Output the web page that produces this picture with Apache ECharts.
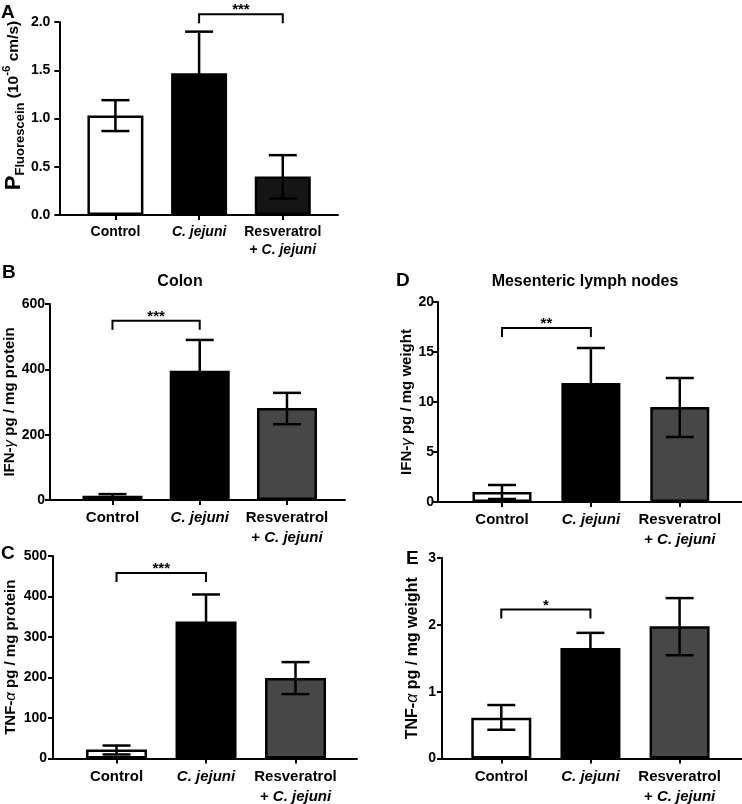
<!DOCTYPE html>
<html><head><meta charset="utf-8">
<script src="https://cdn.jsdelivr.net/npm/echarts@6/dist/echarts.min.js"></script>
<style>html,body{margin:0;padding:0;background:#fff}#c{width:742px;height:804px}</style>
</head><body><div id="c"></div>
<script>
// ---------- DATA ----------
const categories = ['Control', 'C. jejuni', 'Resveratrol + C. jejuni'];

// Panel A: P Fluorescein (10^-6 cm/s)
const aMean = [1.03, 1.47, 0.40];
const aLow  = [0.87, 1.04, 0.17];
const aHigh = [1.19, 1.90, 0.62];
// Panel B: Colon IFN-gamma pg/mg protein
const bMean = [13, 396, 282];
const bLow  = [8, 302, 232];
const bHigh = [18, 490, 328];
// Panel C: Colon TNF-alpha pg/mg protein
const cMean = [22, 338, 199];
const cLow  = [10, 271, 159];
const cHigh = [32, 405, 238];
// Panel D: MLN IFN-gamma pg/mg weight
const dMean = [1.0, 11.9, 9.5];
const dLow  = [0.3, 8.4, 6.5];
const dHigh = [1.7, 15.4, 12.4];
// Panel E: MLN TNF-alpha pg/mg weight
const eMean = [0.61, 1.655, 1.98];
const eLow  = [0.43, 1.43, 1.545];
const eHigh = [0.80, 1.88, 2.40];

// y-axis tick settings (max, step) per panel A..E
const yMaxes = [2.0, 600, 500, 20, 3];
const ySteps = [0.5, 200, 100, 5, 1];

// significance brackets per panel A..E
const bracketFrom  = [1, 0, 0, 0, 0];
const bracketTo    = [2, 1, 1, 1, 1];
const bracketLevel = [2.08, 549, 458, 17.4, 2.23];
const bracketStars = ['***', '***', '***', '**', '*'];

const panelLetters = ['A', 'B', 'C', 'D', 'E'];
const yNames = [
  '{big|P}{sub|Fluorescein}{t| (10}{sup|-6}{t| cm/s)}',
  '{t|IFN-}{gr|γ}{t| pg / mg protein}',
  '{t|TNF-}{gr|α}{t| pg / mg protein}',
  '{t|IFN-}{gr|γ}{t| pg / mg weight}',
  '{t|TNF-}{gr|α}{t| pg / mg weight}'
];

// ---------- LAYOUT / STYLE ----------
const FONT = '"Liberation Sans", Arial, sans-serif';
const panels = [
  {mean: aMean, low: aLow, high: aHigh, grid: {left: 54, top: 22, width: 284, height: 193}, xmin: -0.67, xmax: 2.66, barW: 56, colors: ['#ffffff', '#000000', '#151515'], nameGap: 32, namePad: [0, 0, 0, 26], nameSize: 15.5, labMargin: 9, catSize: 14, fmt: v => v.toFixed(1)},
  {mean: bMean, low: bLow, high: bHigh, grid: {left: 50, top: 304, width: 295, height: 196}, xmin: -0.716, xmax: 2.665, barW: 60, colors: ['#ffffff', '#000000', '#474747'], nameGap: 31, namePad: [0, 0, 0, 0], nameSize: 15, labMargin: 5, catSize: 15, fmt: v => String(v)},
  {mean: cMean, low: cLow, high: cHigh, grid: {left: 53, top: 556, width: 304, height: 203}, xmin: -0.71, xmax: 2.687, barW: 61, colors: ['#ffffff', '#000000', '#474747'], nameGap: 33, namePad: [0, 0, 0, 0], nameSize: 15, labMargin: 6, catSize: 15, fmt: v => String(v)},
  {mean: dMean, low: dLow, high: dHigh, grid: {left: 438, top: 302, width: 304, height: 200}, xmin: -0.72, xmax: 2.70, barW: 59, colors: ['#ffffff', '#000000', '#474747'], nameGap: 18, namePad: [0, 0, 0, 0], nameSize: 15, labMargin: 4, catSize: 15, fmt: v => String(v)},
  {mean: eMean, low: eLow, high: eHigh, grid: {left: 442, top: 558, width: 300, height: 201}, xmin: -0.665, xmax: 2.70, barW: 60, colors: ['#ffffff', '#000000', '#474747'], nameGap: 20, namePad: [0, 0, 0, 0], nameSize: 16, labMargin: 6, catSize: 15, fmt: v => String(v)}
];

function fmtPart(s) { return s === 'C. jejuni' ? '{i|C. jejuni}' : '{n|' + s + '}'; }
function catLabel(v) {
  const name = categories[Math.round(v)];
  if (name === undefined) return '';
  const parts = name.split(' + ');
  let out = fmtPart(parts[0]);
  for (let k = 1; k < parts.length; k++) out += '\n{n|+ }' + fmtPart(parts[k]);
  return out;
}

function labelRich(size) {
  const lh = Math.round(size * 1.3);
  return {
    n: {fontFamily: FONT, fontWeight: 'bold', fontSize: size, lineHeight: lh, color: '#000'},
    i: {fontFamily: FONT, fontWeight: 'bold', fontStyle: 'italic', fontSize: size, lineHeight: lh, color: '#000'}
  };
}
function nameRich(k, size) {
  if (k === 0) {
    return {
      t: {fontFamily: FONT, fontWeight: 'bold', fontSize: size, lineHeight: 26, color: '#000'},
      big: {fontFamily: FONT, fontWeight: 'bold', fontSize: 22, lineHeight: 26, color: '#000'},
      sub: {fontFamily: FONT, fontWeight: 'bold', fontSize: 13, lineHeight: 14, verticalAlign: 'bottom', color: '#000'},
      sup: {fontFamily: FONT, fontWeight: 'bold', fontSize: 11.5, lineHeight: 14, verticalAlign: 'top', color: '#000'}
    };
  }
  return {
    t: {fontFamily: FONT, fontWeight: 'bold', fontSize: size, lineHeight: 18, color: '#000'},
    gr: {fontFamily: FONT, fontStyle: 'italic', fontSize: size, lineHeight: 18, color: '#000'}
  };
}

function errorRender(capW) {
  return function (params, api) {
    const x = api.value(0), lo = api.value(1), hi = api.value(2);
    const pLo = api.coord([x, lo]), pHi = api.coord([x, hi]);
    const st = {stroke: '#000', lineWidth: 2.5, fill: null};
    return {type: 'group', children: [
      {type: 'line', shape: {x1: pLo[0], y1: pLo[1], x2: pHi[0], y2: pHi[1]}, style: st},
      {type: 'line', shape: {x1: pLo[0] - capW / 2, y1: pLo[1], x2: pLo[0] + capW / 2, y2: pLo[1]}, style: st},
      {type: 'line', shape: {x1: pHi[0] - capW / 2, y1: pHi[1], x2: pHi[0] + capW / 2, y2: pHi[1]}, style: st}
    ]};
  };
}
function bracketRender(idx) {
  return function (params, api) {
    const a = api.coord([api.value(0), api.value(2)]);
    const b = api.coord([api.value(1), api.value(2)]);
    const t = 9;
    return {type: 'group', children: [
      {type: 'polyline', shape: {points: [[a[0], a[1] + t], [a[0], a[1]], [b[0], b[1]], [b[0], b[1] + t]]}, style: {stroke: '#000', lineWidth: 2, fill: null}},
      {type: 'text', x: (a[0] + b[0]) / 2, y: a[1] - 4, style: {text: bracketStars[idx], fontFamily: FONT, fontWeight: 'bold', fontSize: 15, fill: '#000', align: 'center', verticalAlign: 'middle'}}
    ]};
  };
}

const grids = [], xAxes = [], yAxes = [], series = [];
panels.forEach((p, k) => {
  grids.push(Object.assign({containLabel: false}, p.grid));
  xAxes.push({
    type: 'value', gridIndex: k, min: p.xmin, max: p.xmax,
    splitLine: {show: false},
    axisLine: {show: true, onZero: false, lineStyle: {color: '#000', width: 2}},
    axisTick: {show: true, customValues: [0, 1, 2], length: 5, lineStyle: {color: '#000', width: 2}},
    axisLabel: {show: true, customValues: [0, 1, 2], margin: 8, formatter: catLabel, rich: labelRich(p.catSize), align: 'center'}
  });
  yAxes.push({
    type: 'value', gridIndex: k, min: 0, max: yMaxes[k], interval: ySteps[k],
    splitLine: {show: false},
    axisLine: {show: true, onZero: false, lineStyle: {color: '#000', width: 2}},
    axisTick: {show: true, length: 5, lineStyle: {color: '#000', width: 2}},
    axisLabel: {margin: p.labMargin, fontFamily: FONT, fontWeight: 'bold', fontSize: 14, color: '#000', formatter: p.fmt},
    name: yNames[k], nameLocation: 'middle', nameRotate: 90, nameGap: p.nameGap,
    nameTextStyle: {rich: nameRich(k, p.nameSize), padding: p.namePad}
  });
  series.push({
    type: 'bar', xAxisIndex: k, yAxisIndex: k, barWidth: p.barW, z: 2,
    data: p.mean.map((v, i) => ({value: [i, v], itemStyle: {color: p.colors[i], borderColor: '#000', borderWidth: 2.5}})),
    animation: false
  });
  series.push({
    type: 'custom', xAxisIndex: k, yAxisIndex: k, z: 5, renderItem: errorRender(28),
    data: p.mean.map((v, i) => [i, p.low[i], p.high[i]]), animation: false, clip: false
  });
  series.push({
    type: 'custom', xAxisIndex: k, yAxisIndex: k, z: 5, renderItem: bracketRender(k),
    data: [[bracketFrom[k], bracketTo[k], bracketLevel[k]]], animation: false, clip: false
  });
});

const letterPos = [[1, 3], [2, 263], [1, 544], [396, 271], [406, 549]];
const graphic = letterPos.map((pos, k) => ({
  type: 'text', left: pos[0], top: pos[1],
  style: {text: panelLetters[k], fontFamily: FONT, fontWeight: 'bold', fontSize: 19, fill: '#000'}
}));
graphic.push({type: 'text', x: 180, y: 282, style: {text: 'Colon', fontFamily: FONT, fontWeight: 'bold', fontSize: 16, fill: '#000', align: 'center', verticalAlign: 'middle'}});
graphic.push({type: 'text', x: 585, y: 282, style: {text: 'Mesenteric lymph nodes', fontFamily: FONT, fontWeight: 'bold', fontSize: 16, fill: '#000', align: 'center', verticalAlign: 'middle'}});

const chart = echarts.init(document.getElementById('c'), null, {renderer: 'canvas'});
chart.setOption({
  backgroundColor: '#ffffff',
  animation: false,
  grid: grids, xAxis: xAxes, yAxis: yAxes, series: series, graphic: graphic
});
</script>
</body></html>
